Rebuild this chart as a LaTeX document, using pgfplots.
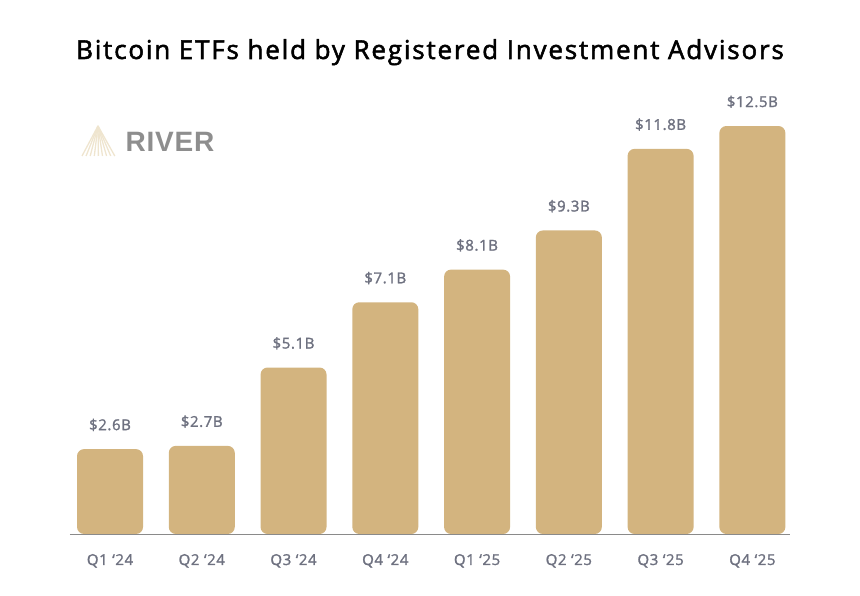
\documentclass[border=0pt]{standalone}
\usepackage{pgfplots}
\pgfplotsset{compat=1.18}
\usepackage{fontspec}
\setmainfont{Open Sans}
\newfontfamily\titlefont{Open Sans}[FakeBold=2, LetterSpace=7]
\newfontfamily\medfont{Open Sans}[FakeBold=1.6, LetterSpace=4]
\newfontfamily\boldfont{Liberation Sans Bold}[LetterSpace=3]
\definecolor{barcol}{HTML}{D3B47F}
\definecolor{lblcol}{HTML}{6E7180}
\definecolor{logocol}{HTML}{EFE5CF}
\definecolor{rivercol}{HTML}{8E8E8E}
\definecolor{axcol}{HTML}{8A8A8A}

\pgfplotstableread{
x y
0 2.6
1 2.7
2 5.1
3 7.1
4 8.1
5 9.3
6 11.8
7 12.5
}\rias

\begin{document}
\begin{tikzpicture}[x=1pt,y=1pt]
\useasboundingbox (-70,-62) rectangle (790,534);
\begin{axis}[
  at={(0,0)}, anchor=south west,
  scale only axis, width=720pt, height=434pt,
  xmin=-0.436, xmax=7.41, ymin=0, ymax=13.297,
  axis y line=none, axis x line*=bottom,
  x axis line style={draw=axcol, line width=0.8pt, -},
  xtick=data,
  xticklabels={Q1 ‘24,Q2 ‘24,Q3 ‘24,Q4 ‘24,Q1 ‘25,Q2 ‘25,Q3 ‘25,Q4 ‘25},
  major tick length=0pt,
  xticklabel style={font=\medfont\fontsize{15}{17}\selectfont, text=lblcol, anchor=base, yshift=-31pt},
  /pgf/number format/assume math mode=true,
  ybar, bar width=66pt,
  nodes near coords={\$\pgfmathprintnumber[fixed,fixed zerofill,precision=1]{\pgfplotspointmeta}B},
  every node near coord/.append style={font=\medfont\fontsize{15}{17}\selectfont, text=lblcol, anchor=base, yshift=19pt},
  clip=false,
]
\addplot[fill=barcol, draw=none, rounded corners=7pt] table[x=x, y=y] {\rias};
\end{axis}
\node[font=\titlefont\fontsize{26}{30}\selectfont, anchor=base] at (360,475) {Bitcoin ETFs held by Registered Investment Advisors};
% logo
\foreach \i in {0,...,8} {
  \draw[logocol, line width=1.3pt] (28,408) -- (12+\i*4.1,378);
}
\node[anchor=west, font=\boldfont\fontsize{28}{30}\selectfont, text=rivercol] at (52,392) {RIVER};
\end{tikzpicture}
\end{document}
